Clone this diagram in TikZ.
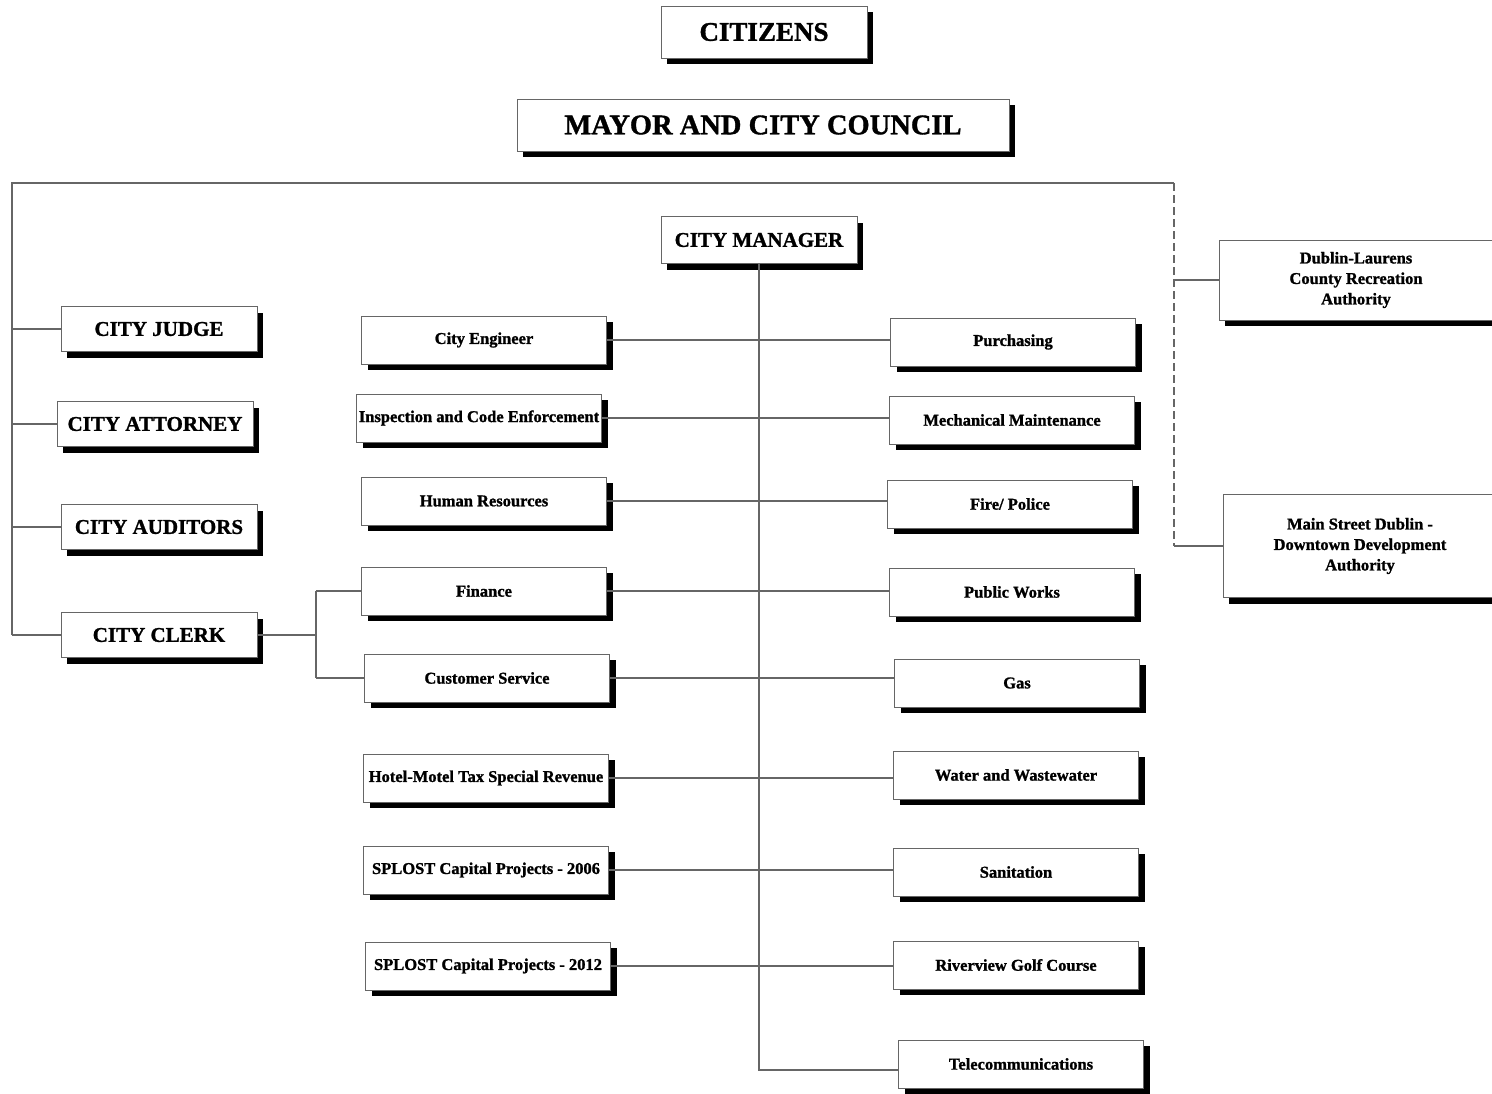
\documentclass[tikz,border=0pt]{standalone}
\usepackage{fontspec}
\setmainfont{Liberation Serif}[BoldFeatures={FakeBold=1.2}]
\usepackage{tikz}
\usetikzlibrary{shadows}

\tikzset{
    unit/.style={draw=black!60, fill=white, line width=1pt, align=center, inner sep=1pt,
        font=\bfseries\fontsize{16.5}{20.5}\selectfont,
        drop shadow={shadow xshift=6pt, shadow yshift=-6pt, fill=black, opacity=1}},
    office/.style={unit, minimum width=196pt, minimum height=45pt,
        font=\bfseries\fontsize{21}{24}\selectfont},
    dept/.style={unit, minimum width=245pt, minimum height=48pt},
    link/.style={draw=black!60, line width=1.2pt},
}

\begin{document}
\begin{tikzpicture}[x=1pt, y=-1pt]
    \useasboundingbox (0,0) rectangle (1492,1093);
    % top
    \node[unit, minimum width=206pt, minimum height=52pt, font=\bfseries\fontsize{27}{30}\selectfont]
        (citizens) at (764,32) {CITIZENS};
    \node[unit, minimum width=492pt, minimum height=52pt, font=\bfseries\fontsize{28.5}{30}\selectfont]
        (council) at (763,125) {MAYOR AND CITY COUNCIL};
    \node[office, minimum height=47pt] (manager) at (759,240) {CITY MANAGER};
    % offices reporting to council
    \node[office] (judge) at (159,329) {CITY JUDGE};
    \node[office] (attorney) at (155,424) {CITY ATTORNEY};
    \node[office] (auditors) at (159,527) {CITY AUDITORS};
    \node[office] (clerk) at (159,635) {CITY CLERK};
    % departments, left column
    \node[dept] (engineer) at (484,340) {City Engineer};
    \node[dept] (inspection) at (479,418) {Inspection and Code Enforcement};
    \node[dept] (hr) at (484,501) {Human Resources};
    \node[dept] (finance) at (484,591) {Finance};
    \node[dept] (customer) at (487,678) {Customer Service};
    \node[dept] (hotel) at (486,778) {Hotel-Motel Tax Special Revenue};
    \node[dept] (splosta) at (486,870) {SPLOST Capital Projects - 2006};
    \node[dept] (splostb) at (488,966) {SPLOST Capital Projects - 2012};
    % departments, right column
    \node[dept] (purchasing) at (1013,342) {Purchasing};
    \node[dept] (mechanical) at (1012,420) {Mechanical Maintenance};
    \node[dept] (firepolice) at (1010,504) {Fire/ Police};
    \node[dept] (publicworks) at (1012,592) {Public Works};
    \node[dept] (gas) at (1017,683) {Gas};
    \node[dept] (water) at (1016,775) {Water and Wastewater};
    \node[dept] (sanitation) at (1016,872) {Sanitation};
    \node[dept] (golf) at (1016,965) {Riverview Golf Course};
    \node[dept] (telecom) at (1021,1064) {Telecommunications};
    % authorities
    \node[unit, minimum width=274pt, minimum height=80pt] (recreation) at (1356,280)
        {Dublin-Laurens\\County Recreation\\Authority};
    \node[unit, minimum width=274pt, minimum height=103pt] (downtown) at (1360,546)
        {Main Street Dublin -\\Downtown Development\\Authority};

    % connectors
    \coordinate (ltop) at (12,183);
    \coordinate (rtop) at (1174,183);
    \coordinate (clerkfork) at (316,635);
    \coordinate (mgrend) at (759,1070);
    \draw[link] (ltop |- clerk) -- (ltop) -- (rtop);
    \foreach \n in {judge,attorney,auditors,clerk}
        \draw[link] (ltop |- \n) -- (\n.west);
    \draw[link, dash pattern=on 8pt off 4pt] (rtop) -- (rtop |- downtown);
    \draw[link] (rtop |- recreation) -- (recreation.west);
    \draw[link] (rtop |- downtown) -- (downtown.west);
    \draw[link] (clerk.east) -- (clerkfork);
    \draw[link] (clerkfork |- finance) -- (clerkfork |- customer);
    \draw[link] (clerkfork |- finance) -- (finance.west);
    \draw[link] (clerkfork |- customer) -- (customer.west);
    \draw[link] (manager.south) -- (mgrend) -- (mgrend -| telecom.west);
    \foreach \a/\b in {engineer/purchasing,inspection/mechanical,hr/firepolice,
        finance/publicworks,customer/gas,hotel/water,splosta/sanitation,splostb/golf}
        \draw[link] (\a.east) -- (\a.east -| \b.west);
\end{tikzpicture}
\end{document}
